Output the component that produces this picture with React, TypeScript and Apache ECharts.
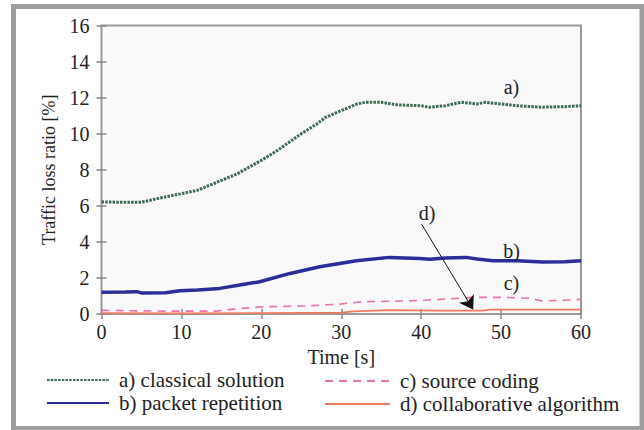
import React, { useEffect, useRef } from "react";
import * as echarts from "echarts";

const xTicks = [0, 10, 20, 30, 40, 50, 60];
const yTicks = [0, 2, 4, 6, 8, 10, 12, 14, 16];

const seriesNames = [
  "a) classical solution",
  "b) packet repetition",
  "c) source coding",
  "d) collaborative algorithm",
];

const aTime = [0, 2, 5, 7, 10, 12, 15, 17, 20, 22, 25, 27, 28, 30, 32, 33, 35, 37, 40, 41, 43, 45, 47, 48, 50, 52, 55, 58, 60];
const aValues = [6.22, 6.2, 6.2, 6.4, 6.67, 6.86, 7.41, 7.78, 8.52, 9.07, 10.0, 10.55, 10.9, 11.28, 11.65, 11.74, 11.74, 11.6, 11.55, 11.47, 11.55, 11.74, 11.65, 11.74, 11.65, 11.55, 11.47, 11.5, 11.55];

const bTime = [0, 3, 4.4, 5, 8, 9.8, 12, 14.8, 17.3, 19.8, 23.6, 27.3, 29.8, 31.9, 36, 39.8, 41.1, 43, 45.6, 47, 49, 52, 55.2, 58, 60];
const bValues = [1.2, 1.22, 1.24, 1.17, 1.18, 1.29, 1.33, 1.42, 1.61, 1.79, 2.25, 2.62, 2.8, 2.95, 3.14, 3.08, 3.03, 3.1, 3.14, 3.05, 2.95, 2.95, 2.88, 2.9, 2.95];

const cTime = [0, 3.6, 8, 14.4, 16.5, 20.2, 25.2, 29.8, 32.7, 38.1, 42.3, 46.4, 50.6, 53.6, 55.2, 58, 60];
const cValues = [0.2, 0.18, 0.16, 0.16, 0.27, 0.4, 0.44, 0.55, 0.68, 0.72, 0.81, 0.92, 0.92, 0.87, 0.72, 0.76, 0.81];

const dTime = [0, 10, 20, 30, 31.5, 36, 41.9, 47.7, 48.6, 54, 60];
const dValues = [0.05, 0.04, 0.05, 0.08, 0.15, 0.22, 0.19, 0.19, 0.24, 0.24, 0.24];

const labelA = { text: "a)", t: 51.3, v: 12.57 };
const labelB = { text: "b)", t: 51.3, v: 3.5 };
const labelC = { text: "c)", t: 51.3, v: 1.7 };
const labelD = { text: "d)", t: 40.75, v: 5.6 };
const arrowStart = [40.06, 4.98];
const arrowEnd = [46.5, 0.25];

const pairs = (ts: number[], vs: number[]) => ts.map((t, i) => [t, vs[i]]);

const FONT = "Liberation Serif";
const TXT = "#222";
const FS = 20;

const annot = (l: { text: string; t: number; v: number }) => ({
  symbol: "circle",
  symbolSize: 0,
  silent: true,
  label: {
    show: true,
    position: "inside",
    formatter: l.text,
    fontFamily: FONT,
    fontSize: FS,
    color: TXT,
  },
  data: [{ coord: [l.t, l.v], value: 0 }],
});

export default function App() {
  const ref = useRef<HTMLDivElement>(null);
  useEffect(() => {
    document.body.style.margin = "0";
    if (!ref.current) return;
    const chart = echarts.init(ref.current, null, { renderer: "svg" });
    const axisLabel = { fontFamily: FONT, fontSize: FS, color: TXT };
    const tick = { show: true, inside: true, length: 5, lineStyle: { color: "#888", width: 1.5 } };
    const legendText = { fontFamily: FONT, fontSize: 21, color: TXT, lineHeight: 21, padding: [0, 0, 0, 5] };
    chart.setOption({
      animation: false,
      backgroundColor: "#ffffff",
      textStyle: { fontFamily: FONT },
      grid: {
        left: 101.5,
        right: 63,
        top: 25.5,
        bottom: 116,
        show: true,
        backgroundColor: "#f9f9f9",
        borderColor: "#9a9a9a",
        borderWidth: 2,
      },
      xAxis: [
        {
          type: "value",
          min: 0,
          max: 60,
          interval: 10,
          position: "bottom",
          name: "Time [s]",
          nameLocation: "middle",
          nameGap: 31,
          nameTextStyle: { fontFamily: FONT, fontSize: FS, color: TXT, fontWeight: "normal" },
          axisLine: { show: false },
          axisTick: tick,
          splitLine: { show: false },
          axisLabel: { ...axisLabel, margin: 8 },
        },
        {
          type: "value",
          min: 0,
          max: 60,
          interval: 10,
          position: "top",
          axisLine: { show: false },
          axisTick: tick,
          splitLine: { show: false },
          axisLabel: { show: false },
        },
      ],
      yAxis: [
        {
          type: "value",
          min: 0,
          max: 16,
          interval: 2,
          position: "left",
          name: "Traffic loss ratio [%]",
          nameLocation: "middle",
          nameGap: 44,
          nameTextStyle: { fontFamily: FONT, fontSize: 18, color: TXT, fontWeight: "normal" },
          axisLine: { show: false },
          axisTick: tick,
          splitLine: { show: false },
          axisLabel: { ...axisLabel, margin: 12, formatter: (v: number) => (yTicks.includes(v) ? String(v) : "") },
        },
        {
          type: "value",
          min: 0,
          max: 16,
          interval: 2,
          position: "right",
          axisLine: { show: false },
          axisTick: tick,
          splitLine: { show: false },
          axisLabel: { show: false },
        },
      ],
      legend: [
        {
          data: [seriesNames[0], seriesNames[1]],
          orient: "vertical",
          left: 41,
          top: 364.5,
          itemWidth: 62,
          itemHeight: 12,
          itemGap: 2,
          itemStyle: { color: "rgba(0,0,0,0)", borderWidth: 0, opacity: 0 },
          textStyle: legendText,
        },
        {
          data: [seriesNames[2], seriesNames[3]],
          orient: "vertical",
          left: 319,
          top: 365.5,
          itemWidth: 65,
          itemHeight: 12,
          itemGap: 2,
          itemStyle: { color: "rgba(0,0,0,0)", borderWidth: 0, opacity: 0 },
          textStyle: legendText,
        },
      ],
      graphic: [
        {
          type: "rect",
          shape: { x: 13.5, y: 6.5, width: 628.5, height: 422 },
          style: { fill: "none", stroke: "#9e9e9e", lineWidth: 5 },
          silent: true,
        },
      ],
      series: [
        {
          name: seriesNames[0],
          type: "line",
          data: pairs(aTime, aValues),
          symbol: "none",
          lineStyle: { color: "#3d6b52", width: 3, type: [2.5, 1.2] },
          itemStyle: { color: "#3d6b52" },
          markPoint: annot(labelA),
          z: 4,
        },
        {
          name: seriesNames[1],
          type: "line",
          data: pairs(bTime, bValues),
          symbol: "none",
          lineStyle: { color: "#2b2d99", width: 3.5 },
          itemStyle: { color: "#2b2d99" },
          markPoint: annot(labelB),
          z: 3,
        },
        {
          name: seriesNames[2],
          type: "line",
          data: pairs(cTime, cValues),
          symbol: "none",
          lineStyle: { color: "#e873b0", width: 1.6, type: [8, 6] },
          itemStyle: { color: "#e873b0" },
          markPoint: annot(labelC),
          z: 2,
        },
        {
          name: seriesNames[3],
          type: "line",
          data: pairs(dTime, dValues),
          symbol: "none",
          lineStyle: { color: "#f07a5e", width: 1.8 },
          itemStyle: { color: "#f07a5e" },
          markPoint: annot(labelD),
          markLine: {
            silent: true,
            symbol: ["none", "arrow"],
            symbolSize: 13,
            label: { show: false },
            itemStyle: { color: "#111" },
            lineStyle: { color: "#111", width: 1, type: "solid" },
            data: [[{ coord: arrowStart }, { coord: arrowEnd }]],
          },
          z: 5,
        },
      ],
    });
    return () => chart.dispose();
  }, []);
  return <div ref={ref} style={{ width: 644, height: 430 }} />;
}
